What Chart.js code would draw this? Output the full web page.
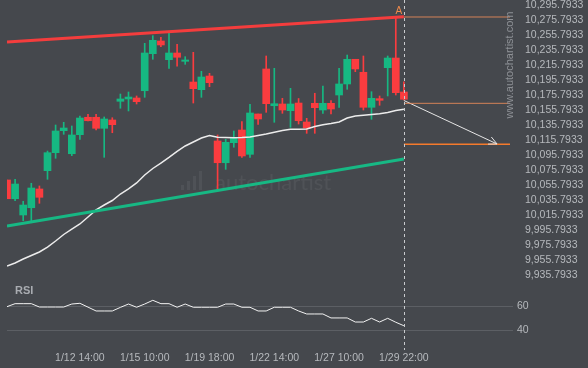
<!DOCTYPE html>
<html lang="en">
<head>
<meta charset="UTF-8" />
<title>Autochartist - Rising Wedge</title>
<script src="https://cdn.jsdelivr.net/npm/chart.js"></script>
<style>
  html, body { margin: 0; padding: 0; background: #45484d; }
  #wrap { width: 588px; height: 368px; }
</style>
</head>
<body>
<div id="wrap"><canvas id="chart" width="588" height="368"></canvas></div>
<script>
// candles, one per bar index (0..49)
const opens = [10062.5, 10037.5, 10015.8, 10025.5, 10050.5, 10074.9, 10098.9, 10128.2, 10097.5, 10122.9,
  10146.1, 10146.1, 10131.4, 10142.5, 10167.4, 10170.5, 10171.8, 10181.5, 10230.9, 10247.8,
  10222.9, 10231.8, 10220.7, 10193.1, 10182.9, 10201.1, 10114.5, 10085.5, 10112.2, 10129.1,
  10096.7, 10150.5, 10210.5, 10161.5, 10163.8, 10154.9, 10165.1, 10139.8, 10164.7, 10155.8,
  10164.7, 10175.8, 10190.5, 10223.4, 10206.1, 10159.4, 10170.9, 10212.2, 10225.1, 10179.8];
const closes = [10037.5, 10057.1, 10029.1, 10051.8, 10039.4, 10098.9, 10127.8, 10131.8, 10122.5, 10145.1,
  10141.5, 10131.4, 10143.8, 10136.2, 10170.5, 10173.1, 10166.9, 10231.8, 10248.7, 10242.5,
  10231.8, 10226.1, 10222.5, 10184.2, 10199.8, 10192.2, 10085.5, 10112.7, 10118.9, 10094.5,
  10151.8, 10143.8, 10164.2, 10164.2, 10155.8, 10163.8, 10141.5, 10131.8, 10158.9, 10164.7,
  10157.1, 10190.5, 10223.4, 10210.5, 10159.4, 10171.4, 10168.7, 10225.1, 10178.9, 10170.1];
const highs = [10062.5, 10063.4, 10034.1, 10058.1, 10054.5, 10101.1, 10135.8, 10139.4, 10134.5, 10147.8,
  10150.1, 10150.1, 10146.5, 10145.5, 10177.1, 10179.8, 10174.5, 10244.7, 10254.9, 10252.7,
  10259.4, 10243.4, 10226.9, 10232.7, 10207.4, 10204.7, 10122.5, 10116.7, 10127.8, 10140.2,
  10163.4, 10150.5, 10227.8, 10211.4, 10171.4, 10184.7, 10171.1, 10144.7, 10178.1, 10187.8,
  10168.2, 10211.4, 10229.1, 10223.4, 10227.8, 10180.2, 10174.5, 10227.8, 10279.4, 10193.5];
const lows = [10037.5, 10034.9, 10008.2, 10005.5, 10031.4, 10063.4, 10091.4, 10123.4, 10094.9, 10116.7,
  10141.1, 10129.1, 10092.7, 10125.5, 10158.1, 10154.5, 10163.8, 10172.7, 10223.4, 10240.2,
  10211.4, 10214.1, 10216.7, 10165.1, 10172.7, 10186.9, 10049.1, 10076.7, 10106.1, 10092.7,
  10092.7, 10136.7, 10152.7, 10139.4, 10151.4, 10132.7, 10137.1, 10124.7, 10124.7, 10151.4,
  10150.5, 10159.4, 10183.4, 10206.9, 10155.8, 10143.4, 10162.1, 10174.5, 10175.8, 10169.1];

// moving average and RSI, same indexes
const movingAvg = [9947.8, 9951.8, 9957.1, 9961.8, 9966.5, 9973.1, 9981.1, 9989.8, 9997.1, 10003.8,
  10013.1, 10022.5, 10029.1, 10035.1, 10043.8, 10050.5, 10058.5, 10069.1, 10077.8, 10085.1,
  10092.5, 10100.5, 10107.8, 10113.1, 10118.5, 10121.8, 10119.4, 10119.1, 10118.9, 10119.1,
  10119.8, 10121.8, 10123.8, 10126.1, 10128.5, 10130.1, 10130.1, 10130.5, 10133.8, 10136.1,
  10137.8, 10139.8, 10145.1, 10147.8, 10148.7, 10149.8, 10150.7, 10152.5, 10155.1, 10156.7];
const rsi = [59.7, 62.2, 62.2, 62.2, 59.4, 59.4, 59.4, 59.4, 61.9, 62.5,
  59.3, 56.1, 56.1, 56.1, 59.1, 61.9, 59.2, 61.9, 65.0, 62.2,
  62.2, 59.2, 61.9, 59.2, 59.2, 59.2, 59.2, 61.9, 61.9, 59.2,
  59.2, 56.1, 56.1, 59.2, 59.2, 59.2, 56.1, 53.6, 53.6, 53.6,
  50.3, 50.3, 50.3, 46.9, 46.9, 50.0, 46.9, 50.0, 46.7, 43.8];

// pattern lines: [start, end] as {x: bar index, y: price}
const resistance = [{ x: 0, y: 10246.5 }, { x: 49, y: 10280.0 }];
const support = [{ x: 0, y: 10001.1 }, { x: 49, y: 10090.5 }];
const levelTop = [{ x: 49, y: 10279.8 }, { x: 62.1, y: 10279.8 }];
const levelMid = [{ x: 49, y: 10164.7 }, { x: 62.1, y: 10164.7 }];
const levelTarget = [{ x: 49, y: 10110.1 }, { x: 62.1, y: 10110.1 }];
const forecast = [{ x: 49, y: 10168.5 }, { x: 60.5, y: 10110.5 }];

// axes
const timeTicks = [9, 17, 25, 33, 41, 49];
const timeLabels = ['1/12 14:00', '1/15 10:00', '1/19 18:00', '1/22 14:00', '1/27 10:00', '1/29 22:00'];
const priceTicks = [10295.7933, 10275.7933, 10255.7933, 10235.7933, 10215.7933, 10195.7933, 10175.7933,
  10155.7933, 10135.7933, 10115.7933, 10095.7933, 10075.7933, 10055.7933, 10035.7933, 10015.7933,
  9995.7933, 9975.7933, 9955.7933, 9935.7933];
const rsiTicks = [40, 60];

const GREEN = '#16b882';
const RED = '#fa3c3f';
const TXT = '#b6b9bd';
const FONT = { family: 'Liberation Sans, Arial, sans-serif', size: 10.5 };

const upDown = opens.map((o, i) => closes[i] >= o ? GREEN : RED);

const decor = {
  id: 'decor',
  beforeDatasetsDraw(chart) {
    const ctx = chart.ctx;
    ctx.save();
    // watermark
    ctx.fillStyle = 'rgba(255,255,255,0.06)';
    [[181, 5], [187, 9], [193, 14], [199, 19]].forEach(([x, h]) => ctx.fillRect(x, 190 - h, 3, h));
    ctx.font = '22px Lato, sans-serif';
    ctx.textBaseline = 'alphabetic';
    ctx.fillText('autochartist', 215, 190);
    ctx.restore();
  },
  afterDatasetsDraw(chart) {
    const ctx = chart.ctx;
    const xs = chart.scales.x;
    const area = chart.chartArea;
    ctx.save();
    // vertical dashed line at the last bar
    const lx = Math.round(xs.getPixelForValue(49)) + 0.5;
    ctx.strokeStyle = '#c9cbce';
    ctx.lineWidth = 1;
    ctx.setLineDash([3, 3]);
    ctx.beginPath();
    ctx.moveTo(lx, area.top);
    ctx.lineTo(lx, area.bottom + 5);
    ctx.stroke();
    ctx.setLineDash([]);

    // arrow head on forecast line
    const pts = chart.getDatasetMeta(7).data;
    const a = pts[0], b = pts[1];
    const ang = Math.atan2(b.y - a.y, b.x - a.x);
    ctx.strokeStyle = '#e6e6e6';
    ctx.beginPath();
    ctx.moveTo(b.x - 9 * Math.cos(ang - 0.45), b.y - 9 * Math.sin(ang - 0.45));
    ctx.lineTo(b.x, b.y);
    ctx.lineTo(b.x - 9 * Math.cos(ang + 0.45), b.y - 9 * Math.sin(ang + 0.45));
    ctx.stroke();

    // pattern point label
    const r = chart.getDatasetMeta(3).data[1];
    ctx.fillStyle = '#ef8a4c';
    ctx.font = '10px Liberation Sans, Arial, sans-serif';
    ctx.textAlign = 'center';
    ctx.textBaseline = 'middle';
    ctx.fillText('A', r.x - 5, r.y - 6);

    // RSI caption
    const yr = chart.scales.yR;
    ctx.fillStyle = '#a9acb1';
    ctx.font = 'bold 11px Liberation Sans, Arial, sans-serif';
    ctx.textAlign = 'left';
    ctx.fillText('RSI', area.left + 8, yr.top + 6);

    // site url
    ctx.translate(510, 65);
    ctx.rotate(-Math.PI / 2);
    ctx.fillStyle = '#8e9196';
    ctx.font = '11px Liberation Sans, Arial, sans-serif';
    ctx.textAlign = 'center';
    ctx.fillText('www.autochartist.com', 0, 0);
    ctx.restore();
  }
};

const fmt = v => v.toLocaleString('en-US', { minimumFractionDigits: 4, maximumFractionDigits: 4 });
const noPad = s => { s.paddingTop = 0; s.paddingBottom = 0; s.paddingLeft = 0; s.paddingRight = 0; };

new Chart(document.getElementById('chart'), {
  type: 'bar',
  data: {
    datasets: [
      { type: 'bar', data: opens.map((o, i) => ({ x: i, y: [o, closes[i]] })), backgroundColor: upDown,
        barThickness: 7, grouped: false, order: 5, yAxisID: 'y' },
      { type: 'bar', data: lows.map((l, i) => ({ x: i, y: [l, highs[i]] })), backgroundColor: upDown,
        barThickness: 1, grouped: false, order: 6, yAxisID: 'y' },
      { type: 'line', data: movingAvg.map((v, i) => ({ x: i, y: v })), borderColor: '#ececec', borderWidth: 1.5,
        pointRadius: 0, order: 3, yAxisID: 'y' },
      { type: 'line', data: resistance, borderColor: '#f43d3d', borderWidth: 3, pointRadius: 0, order: 1, yAxisID: 'y' },
      { type: 'line', data: support, borderColor: '#17b884', borderWidth: 3, pointRadius: 0, order: 1, yAxisID: 'y' },
      { type: 'line', data: levelTop, borderColor: 'rgba(236,140,90,0.85)', borderWidth: 1, pointRadius: 0, order: 2, yAxisID: 'y' },
      { type: 'line', data: levelMid, borderColor: 'rgba(236,140,90,0.85)', borderWidth: 1, pointRadius: 0, order: 2, yAxisID: 'y' },
      { type: 'line', data: forecast, borderColor: '#e6e6e6', borderWidth: 1, pointRadius: 0, order: 2, yAxisID: 'y' },
      { type: 'line', data: levelTarget, borderColor: '#f57a2c', borderWidth: 1.5, pointRadius: 0, order: 2, yAxisID: 'y' },
      { type: 'line', data: rsi.map((v, i) => ({ x: i, y: v })), borderColor: '#f2f2f2', borderWidth: 1,
        pointRadius: 0, order: 1, yAxisID: 'yR' }
    ]
  },
  options: {
    responsive: false,
    animation: false,
    layout: { padding: { left: 7, top: 0, right: 0, bottom: 0 } },
    plugins: { legend: { display: false }, tooltip: { enabled: false } },
    scales: {
      x: {
        type: 'linear', min: 0, max: 62.1, offset: false,
        grid: { display: false, offset: false, drawTicks: false },
        border: { display: false },
        afterBuildTicks: s => { s.ticks = timeTicks.map(v => ({ value: v })); },
        afterFit: s => { s.height = 23; noPad(s); },
        ticks: { color: TXT, font: FONT, padding: 7, maxRotation: 0, autoSkip: false,
          callback: v => timeLabels[timeTicks.indexOf(v)] }
      },
      y: {
        type: 'linear', position: 'right', stack: 'panes', stackWeight: 285,
        min: 9922.46, max: 10302.46,
        grid: { display: false },
        border: { display: false },
        afterBuildTicks: s => { s.ticks = priceTicks.map(v => ({ value: v })); },
        afterFit: s => { s.width = 78; noPad(s); },
        ticks: { color: TXT, font: FONT, padding: 7, autoSkip: false, callback: v => fmt(v) }
      },
      yR: {
        type: 'linear', position: 'right', stack: 'panes', stackWeight: 60,
        min: 27.75, max: 77.75,
        grid: { color: '#5c5f64', drawTicks: true, tickLength: 3 },
        border: { display: false },
        afterBuildTicks: s => { s.ticks = rsiTicks.map(v => ({ value: v })); },
        afterFit: s => { s.width = 78; noPad(s); },
        ticks: { color: TXT, font: FONT, padding: 4, autoSkip: false }
      }
    }
  },
  plugins: [decor]
});
</script>
</body>
</html>
